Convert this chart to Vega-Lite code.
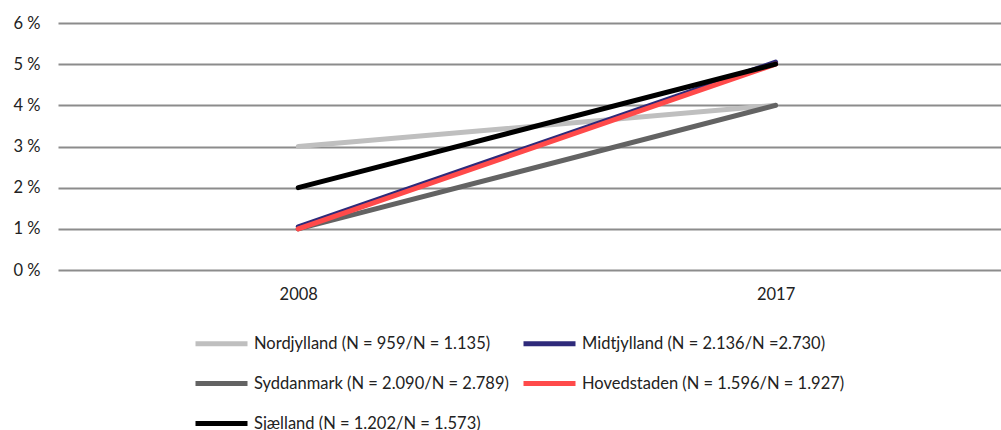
{
  "$schema": "https://vega.github.io/schema/vega-lite/v6.json",
  "width": 943,
  "height": 247,
  "autosize": "none",
  "padding": {"left": 58, "top": 23, "right": 0, "bottom": 160},
  "background": "white",
  "config": {
    "font": "Lato",
    "view": {"stroke": null}
  },
  "data": {
    "values": [
      {"region": "Nordjylland (N = 959/N = 1.135)", "year": 2008, "pct": 3},
      {"region": "Nordjylland (N = 959/N = 1.135)", "year": 2017, "pct": 4},
      {"region": "Midtjylland (N = 2.136/N =2.730)", "year": 2008, "pct": 1.05},
      {"region": "Midtjylland (N = 2.136/N =2.730)", "year": 2017, "pct": 5.05},
      {"region": "Syddanmark (N = 2.090/N = 2.789)", "year": 2008, "pct": 1},
      {"region": "Syddanmark (N = 2.090/N = 2.789)", "year": 2017, "pct": 4},
      {"region": "Hovedstaden (N = 1.596/N = 1.927)", "year": 2008, "pct": 1},
      {"region": "Hovedstaden (N = 1.596/N = 1.927)", "year": 2017, "pct": 5},
      {"region": "Sjælland (N = 1.202/N = 1.573)", "year": 2008, "pct": 2},
      {"region": "Sjælland (N = 1.202/N = 1.573)", "year": 2017, "pct": 5}
    ]
  },
  "mark": {"type": "line", "strokeWidth": 5, "strokeCap": "round"},
  "encoding": {
    "x": {
      "field": "year",
      "type": "quantitative",
      "scale": {"domain": [2003.47, 2021.25], "nice": false, "zero": false},
      "axis": {
        "title": null,
        "values": [2008, 2017],
        "format": "d",
        "grid": false,
        "ticks": false,
        "domain": false,
        "labelFontSize": 16.5,
        "labelColor": "#222",
        "labelPadding": 16
      }
    },
    "y": {
      "field": "pct",
      "type": "quantitative",
      "scale": {"domain": [0, 6], "nice": false},
      "axis": {
        "title": null,
        "values": [0, 1, 2, 3, 4, 5, 6],
        "labelExpr": "datum.value + ' %'",
        "grid": true,
        "gridColor": "#8c8c8c",
        "gridWidth": 2,
        "ticks": false,
        "domain": false,
        "labelFontSize": 16.5,
        "labelColor": "#222",
        "labelPadding": 18
      }
    },
    "color": {
      "field": "region",
      "type": "nominal",
      "sort": null,
      "scale": {
        "domain": [
          "Nordjylland (N = 959/N = 1.135)",
          "Syddanmark (N = 2.090/N = 2.789)",
          "Sjælland (N = 1.202/N = 1.573)",
          "Midtjylland (N = 2.136/N =2.730)",
          "Hovedstaden (N = 1.596/N = 1.927)"
        ],
        "range": ["#bfbfbf", "#636363", "#000000", "#2e2a7a", "#ff4a4a"]
      },
      "legend": {
        "title": null,
        "orient": "none",
        "legendX": 148,
        "legendY": 305,
        "columns": 2,
        "columnPadding": 4,
        "rowPadding": 14,
        "symbolType": "M-2,0L2,0",
        "symbolSize": 676,
        "symbolStrokeWidth": 5,
        "labelFontSize": 16.5,
        "labelColor": "#222",
        "labelOffset": 17,
        "labelLimit": 400
      }
    }
  }
}
